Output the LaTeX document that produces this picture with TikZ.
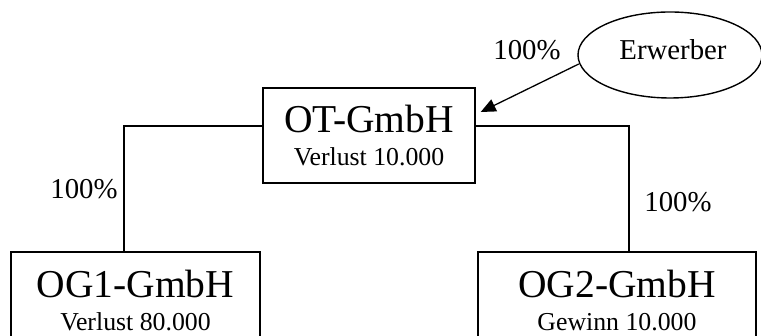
\documentclass[tikz,border=0pt]{standalone}
\usepackage{fontspec}
\setmainfont{Liberation Serif}
\usetikzlibrary{arrows.meta,shapes.geometric}
\begin{document}
\begin{tikzpicture}[x=1pt,y=1pt,
  box/.style={draw,line width=1.4pt,inner sep=0pt},
  big/.style={anchor=base,inner sep=0pt,font=\fontsize{39.5}{42}\selectfont},
  small/.style={anchor=base,inner sep=0pt,font=\fontsize{25.8}{28}\selectfont},
  mid/.style={anchor=base,inner sep=0pt,font=\fontsize{28.8}{31}\selectfont},
  conn/.style={line width=1.4pt},
  arr/.style={line width=1.3pt,-{Triangle[length=15pt,width=13pt]}}]
\useasboundingbox (0,0) rectangle (761,336);
\clip (0,0) rectangle (761,336);
% boxes
\node[box,minimum width=212pt,minimum height=95pt] (OT) at (369,200.5) {};
\node[box,minimum width=249pt,minimum height=90pt] (OG1) at (135.5,39) {};
\node[box,minimum width=278pt,minimum height=90pt] (OG2) at (617,39) {};
\node[draw,ellipse,line width=1.4pt,minimum width=184pt,minimum height=86pt,inner sep=0pt] (E) at (670,281) {};
% texts
\node[big] (t1) at (369,203) {OT-GmbH};
\node[small] (t2) at (369,170) {Verlust 10.000};
\node[big] (t3) at (135.5,38) {OG1-GmbH};
\node[small] (t4) at (135.5,5.5) {Verlust 80.000};
\node[big] (t5) at (617,38) {OG2-GmbH};
\node[small] (t6) at (617,5.5) {Gewinn 10.000};
\node[mid] (t7) at (673,276) {Erwerber};
\node[mid] (l1) at (527,276) {100\%};
\node[mid] (l2) at (84,137) {100\%};
\node[mid] (l3) at (678,124) {100\%};
% connectors
\draw[conn] ([yshift=9.5pt]OT.west) -| ([xshift=-11.5pt]OG1.north);
\draw[conn] ([yshift=9.5pt]OT.east) -| ([xshift=12pt]OG2.north);
\coordinate (tip) at ([shift={(5pt,23.5pt)}]OT.east);
\draw[arr] ([shift={(1.5pt,-9pt)}]E.west) -- (tip);
\end{tikzpicture}
\end{document}
